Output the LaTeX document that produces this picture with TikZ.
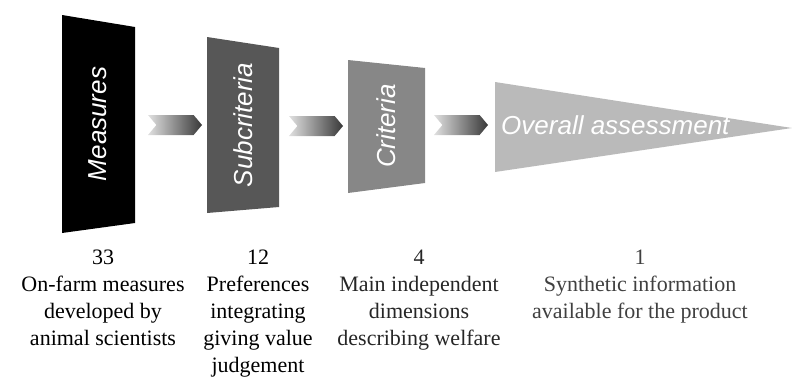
\documentclass[tikz,border=0pt]{standalone}
\usepackage{fontspec}
\setmainfont{Liberation Serif}
\newfontfamily\boxfont{Liberation Sans}
\usetikzlibrary{shapes.symbols}
\begin{document}
\begin{tikzpicture}[x=1pt,y=-1pt,
  boxlabel/.style={text=white,font=\boxfont\itshape\fontsize{26}{30}\selectfont,inner sep=0pt},
  flow/.style={signal, signal from=west, signal to=east, signal pointer angle=100,
    minimum width=54pt, minimum height=20pt, inner sep=0pt,
    left color=black!12, right color=black!78, draw=none},
  caption/.style={align=center,font=\fontsize{22}{27}\selectfont,inner sep=0pt,anchor=north}]
\useasboundingbox (0,0) rectangle (792,380);
% boxes
\fill[black] (62,15) -- (135,27) -- (135,223) -- (62,233) -- cycle;
\fill[black!66] (207,37) -- (279,48) -- (279,207) -- (207,213) -- cycle;
\fill[black!47] (348,60) -- (425,68) -- (425,183) -- (348,193) -- cycle;
\fill[black!27] (495,82) -- (792,128) -- (495,172) -- cycle;
% box labels
\node[boxlabel,rotate=90] (meas) at (98,124) {Measures};
\node[boxlabel,rotate=90] (subc) at (243,125) {Subcriteria};
\node[boxlabel,rotate=90] (crit) at (386,126) {Criteria};
\node[boxlabel,anchor=west] (over) at (501,125) {Overall assessment};
% arrows
\node[flow] (a1) at (175,125) {};
\node[flow] (a2) at (316,126) {};
\node[flow] (a3) at (461,125) {};
% captions
\node[caption] (c1) at (103,250) {33\\On-farm measures\\developed by\\animal scientists};
\node[caption] (c2) at (258,250) {12\\Preferences\\integrating\\giving value\\judgement};
\node[caption,text=black!85] (c3) at (419,250) {4\\Main independent\\dimensions\\describing welfare};
\node[caption,text=black!75] (c4) at (640,250) {1\\Synthetic information\\available for the product};
\end{tikzpicture}
\end{document}
